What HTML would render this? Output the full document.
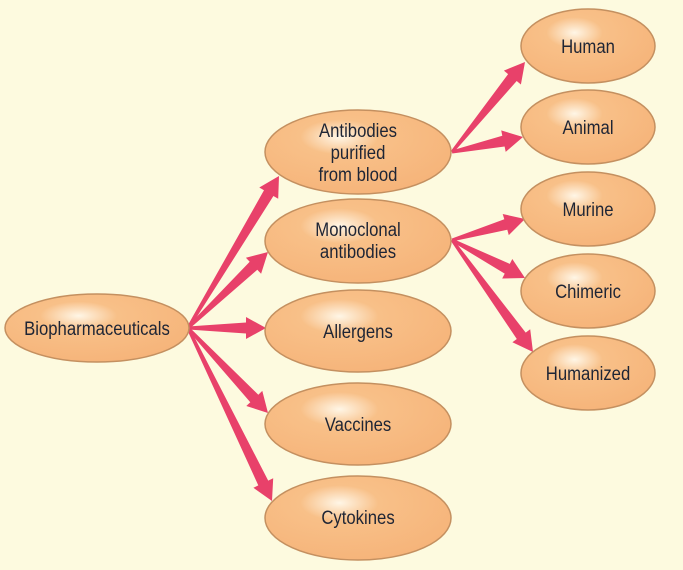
<!DOCTYPE html>
<html><head><meta charset="utf-8"><style>
html,body{margin:0;padding:0;background:#fdfadf;}
svg{display:block}
text{font-family:"Liberation Sans",sans-serif;font-size:19px;fill:#1e2535;text-anchor:middle}
</style></head><body>
<svg id="s" width="683" height="570" viewBox="0 0 683 570" xmlns="http://www.w3.org/2000/svg">
<defs>
<radialGradient id="g" cx="0.4" cy="0.32" r="0.7">
<stop offset="0" stop-color="#fff6e6"/>
<stop offset="0.3" stop-color="#f8c088"/>
<stop offset="1" stop-color="#f6b47a"/>
</radialGradient>
</defs>
<rect width="683" height="570" fill="#fdfadf"/>
<g id="arrows"></g>
<g stroke="#c49060" stroke-width="1.5" fill="url(#g)">
<ellipse cx="97" cy="328" rx="92" ry="34"/>
<ellipse cx="358" cy="152" rx="93" ry="42"/>
<ellipse cx="358" cy="241" rx="93" ry="42"/>
<ellipse cx="358" cy="331" rx="93" ry="41"/>
<ellipse cx="358" cy="424" rx="93" ry="41"/>
<ellipse cx="358" cy="518" rx="93" ry="42"/>
<ellipse cx="588" cy="46" rx="67" ry="37"/>
<ellipse cx="588" cy="127" rx="67" ry="37"/>
<ellipse cx="588" cy="209" rx="67" ry="37"/>
<ellipse cx="588" cy="291" rx="67" ry="37"/>
<ellipse cx="588" cy="373" rx="67" ry="37"/>
</g>
<g id="t">
<text x="97" y="335">Biopharmaceuticals</text>
<text x="358" y="137">Antibodies</text>
<text x="358" y="159">purified</text>
<text x="358" y="181">from blood</text>
<text x="358" y="236">Monoclonal</text>
<text x="358" y="258">antibodies</text>
<text x="358" y="338">Allergens</text>
<text x="358" y="431">Vaccines</text>
<text x="358" y="524">Cytokines</text>
<text x="588" y="53">Human</text>
<text x="588" y="134">Animal</text>
<text x="588" y="216">Murine</text>
<text x="588" y="298">Chimeric</text>
<text x="588" y="380">Humanized</text>
</g>
</svg>
<script>
var ts=document.querySelectorAll('#t text');
for(var i=0;i<ts.length;i++){var t=ts[i],x=+t.getAttribute('x');t.setAttribute('x','0');t.setAttribute('transform','translate('+x+',0) scale(0.88,1)');}
var A=[[188,328,279,176],[188,328,268,252],[188,328,266,328],[188,328,268,413],[188,328,272,501],
[452,152,525,62],[452,152,523,137],[452,240,525,219],[452,240,525,278],[452,240,533,352]];
var g=document.getElementById('arrows'),h='';
A.forEach(function(a){
var dx=a[2]-a[0],dy=a[3]-a[1],L=Math.sqrt(dx*dx+dy*dy),ux=dx/L,uy=dy/L,nx=-uy,ny=ux;
var hl=20,hw=11,sw0=1.5,sw1=5.5;
var bx=a[2]-ux*hl,by=a[3]-uy*hl;
function p(x,y){return x.toFixed(1)+','+y.toFixed(1)}
var pts=[p(a[0]+nx*sw0,a[1]+ny*sw0),p(bx+nx*sw1,by+ny*sw1),p(bx+nx*hw,by+ny*hw),p(a[2],a[3]),p(bx-nx*hw,by-ny*hw),p(bx-nx*sw1,by-ny*sw1),p(a[0]-nx*sw0,a[1]-ny*sw0)];
h+='<polygon points="'+pts.join(' ')+'" fill="#e8416a"/>';
});
g.innerHTML=h;
</script>
</body></html>
